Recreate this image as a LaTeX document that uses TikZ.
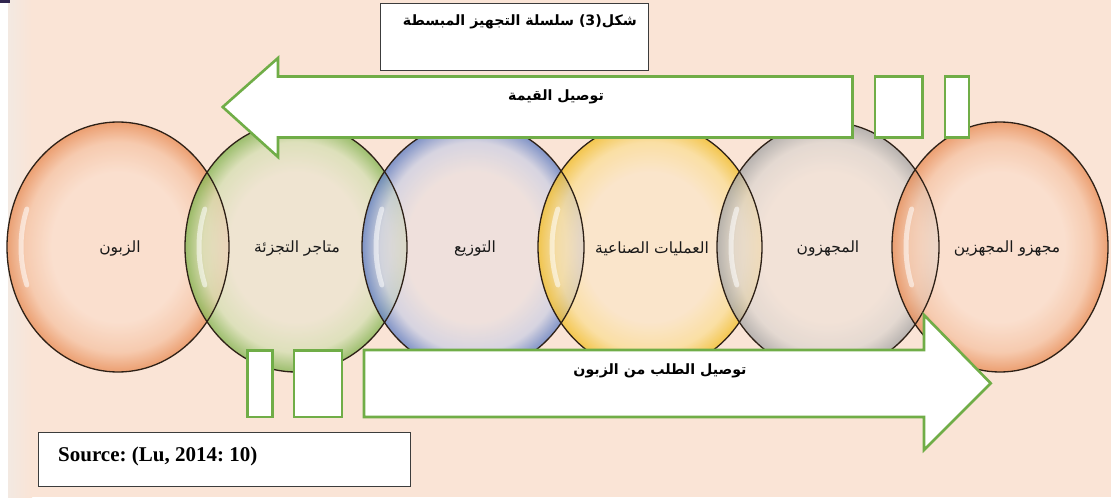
\documentclass[tikz,border=0pt]{standalone}
\usepackage{fontspec}
\usetikzlibrary{calc}
\setmainfont{Liberation Serif}
\newfontfamily\arabicfont[Script=Arabic]{DejaVu Sans}
\TeXXeTstate=1
\frenchspacing
\definecolor{bgpeach}{RGB}{250,228,214}
\definecolor{bgedge}{RGB}{243,233,226}
\definecolor{arrowgreen}{RGB}{112,173,71}
\definecolor{boxline}{RGB}{60,60,60}
\definecolor{ringline}{RGB}{45,32,22}
\definecolor{labeltext}{RGB}{25,25,25}
\definecolor{cornermark}{RGB}{50,38,80}
% circle colours
\definecolor{orIn}{RGB}{250,222,204}
\definecolor{orMid}{RGB}{246,196,165}
\definecolor{orRim}{RGB}{232,140,85}
\definecolor{grIn}{RGB}{236,228,208}
\definecolor{grMid}{RGB}{214,224,180}
\definecolor{grRim}{RGB}{130,180,80}
\definecolor{blIn}{RGB}{236,224,222}
\definecolor{blMid}{RGB}{205,208,228}
\definecolor{blRim}{RGB}{95,125,195}
\definecolor{yeIn}{RGB}{251,230,200}
\definecolor{yeMid}{RGB}{250,222,150}
\definecolor{yeRim}{RGB}{242,190,40}
\definecolor{gyIn}{RGB}{240,226,216}
\definecolor{gyMid}{RGB}{222,214,208}
\definecolor{gyRim}{RGB}{165,165,165}
\pgfdeclareradialshading{orangeglass}{\pgfpoint{0bp}{0bp}}{color(0bp)=(orIn); color(15bp)=(orIn); color(21bp)=(orMid); color(25bp)=(orRim); color(50bp)=(orRim)}
\pgfdeclareradialshading{greenglass}{\pgfpoint{0bp}{0bp}}{color(0bp)=(grIn); color(15bp)=(grIn); color(21bp)=(grMid); color(25bp)=(grRim); color(50bp)=(grRim)}
\pgfdeclareradialshading{blueglass}{\pgfpoint{0bp}{0bp}}{color(0bp)=(blIn); color(15bp)=(blIn); color(21bp)=(blMid); color(25bp)=(blRim); color(50bp)=(blRim)}
\pgfdeclareradialshading{yellowglass}{\pgfpoint{0bp}{0bp}}{color(0bp)=(yeIn); color(15bp)=(yeIn); color(21bp)=(yeMid); color(25bp)=(yeRim); color(50bp)=(yeRim)}
\pgfdeclareradialshading{grayglass}{\pgfpoint{0bp}{0bp}}{color(0bp)=(gyIn); color(15bp)=(gyIn); color(21bp)=(gyMid); color(25bp)=(gyRim); color(50bp)=(gyRim)}
\tikzset{
  arrowshape/.style={draw=arrowgreen, fill=white, line width=2.6pt, line join=miter},
  framebox/.style={draw=boxline, fill=white, line width=1pt},
  ringedge/.style={draw=ringline, line width=1.3pt},
  circlelabel/.style={font=\arabicfont\fontsize{15.5}{17}\selectfont, text=labeltext, inner sep=0pt},
  arrowlabel/.style={font=\arabicfont\bfseries\fontsize{14.2}{16}\selectfont, text=black, inner sep=0pt},
  highlight/.style={draw=white, line width=5pt, line cap=round, opacity=0.55},
}
\begin{document}
\begin{tikzpicture}[x=1pt,y=-1pt]
\useasboundingbox (0,0) rectangle (1111,500);
% background
\fill[white] (0,0) rectangle (1111,500);
\fill[bgpeach] (8,0) rectangle (1111,497);
\shade[left color=bgedge, right color=bgpeach] (8,0) rectangle (32,497);
\fill[cornermark] (0,0) rectangle (10,3);
% circles
\foreach \cx/\rx/\sh in {118/111/orangeglass, 296/111/greenglass, 473/111/blueglass, 650/112/yellowglass, 828/111/grayglass, 1000/108/orangeglass}{
  \shade[shading=\sh, fill opacity=0.78] (\cx,247) ellipse [x radius=\rx, y radius=125];
}
\foreach \cx/\rx in {118/111, 296/111, 473/111, 650/112, 828/111, 1000/108}{
  \draw[highlight] ($(\cx,247)+(160:\rx-14 and 111)$) arc[start angle=160, end angle=200, x radius=\rx-14, y radius=111];
  \draw[ringedge] (\cx,247) ellipse [x radius=\rx, y radius=125];
}
% circle labels
\node[circlelabel] (customer) at (120,249) {\beginR الزبون\endR};
\node[circlelabel] (retail) at (297,249) {\beginR متاجر التجزئة\endR};
\node[circlelabel] (distrib) at (475,249) {\beginR التوزيع\endR};
\node[circlelabel] (manuf) at (652,249) {\beginR العمليات الصناعية\endR};
\node[circlelabel] (suppl) at (828,249) {\beginR المجهزون\endR};
\node[circlelabel] (suppsupp) at (1007,249) {\beginR مجهزو المجهزين\endR};
% title box
\draw[framebox] (380.7,3.3) rectangle (648,70.7);
\node[arrowlabel, anchor=east] (title) at (637,22) {\beginR سلسلة التجهيز المبسطة\endR\ (3)\beginR شكل\endR};
% value arrow (top, pointing left)
\draw[arrowshape] (222.7,107) -- (278,58) -- (278,76.5) -- (852.5,76.5) -- (852.5,137.5) -- (278,137.5) -- (278,157) -- cycle;
\draw[arrowshape] (875,76.5) rectangle (922.5,137.5);
\draw[arrowshape] (945,76.5) rectangle (969,137.5);
\node[arrowlabel] (valuelabel) at (556,97) {\beginR توصيل القيمة\endR};
% demand arrow (bottom, pointing right)
\draw[arrowshape] (364,350) -- (924,350) -- (924,315) -- (990.7,383.3) -- (924,450) -- (924,417) -- (364,417) -- cycle;
\draw[arrowshape] (247.7,350.7) rectangle (272.7,417);
\draw[arrowshape] (294,350.7) rectangle (342,417);
\node[arrowlabel] (demandlabel) at (660,371) {\beginR توصيل الطلب من الزبون\endR};
% source box
\draw[framebox] (38,432) rectangle (410,486);
\node[anchor=base west, inner sep=0pt, font=\bfseries\fontsize{21}{23}\selectfont] (source) at (58,461.5) {Source: (Lu, 2014: 10)};
\end{tikzpicture}
\end{document}
